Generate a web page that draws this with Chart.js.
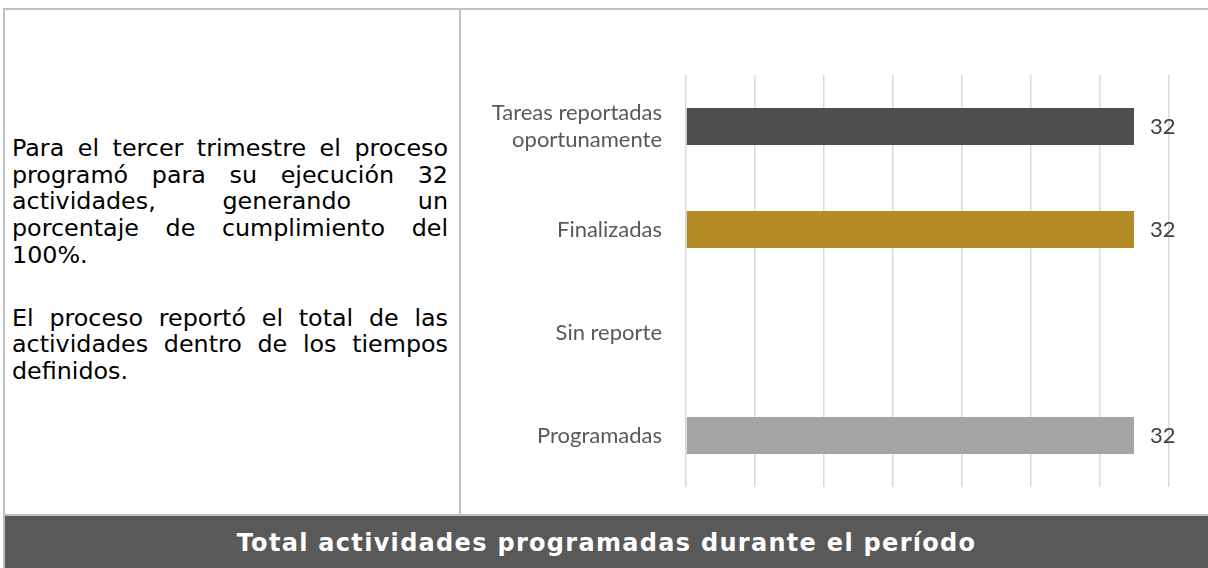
<!DOCTYPE html>
<html>
<head>
<meta charset="utf-8">
<script src="https://cdn.jsdelivr.net/npm/chart.js@4/dist/chart.umd.min.js"></script>
<style>
  html, body { margin: 0; padding: 0; background: #fff; }
  body { width: 1208px; height: 568px; position: relative; overflow: hidden; }
  .frame { position: absolute; left: 3px; top: 8px; width: 1220px; height: 600px;
           border-left: 2px solid #bfbfbf; border-top: 2px solid #bfbfbf; box-sizing: border-box; }
  .divider { position: absolute; left: 459px; top: 8px; width: 2px; height: 508px; background: #bfbfbf; }
  .summary { position: absolute; left: 12px; top: 135px; width: 436px;
             font-family: "DejaVu Sans", Verdana, sans-serif; font-size: 23.8px; line-height: 26.7px;
             color: #000; text-align: justify; }
  .summary p { margin: 0 0 36px 0; }
  .footer { position: absolute; left: 5px; top: 514px; width: 1210px; height: 60px;
            border-top: 2px solid #bfbfbf; background: #595959; }
  .footer span { position: absolute; left: 0; width: 1203px; top: 13px; text-align: center;
                 font-family: "DejaVu Sans", Verdana, sans-serif; font-weight: bold; font-size: 24px;
                 letter-spacing: 1.3px; color: #fff; }
  #activityChart { position: absolute; left: 462px; top: 10px; }
</style>
</head>
<body>
<div class="frame"></div>
<div class="divider"></div>
<div class="summary">
  <p>Para el tercer trimestre el proceso programó para su ejecución 32 actividades, generando un porcentaje de cumplimiento del 100%.</p>
  <p>El proceso reportó el total de las actividades dentro de los tiempos definidos.</p>
</div>
<canvas id="activityChart" width="744" height="504"></canvas>
<div class="footer"><span>Total actividades programadas durante el período</span></div>

<script>
const categories = [['Tareas reportadas', 'oportunamente'], 'Finalizadas', 'Sin reporte', 'Programadas'];
const activityValues = [32, 32, null, 32];
const barColors = ['#504f4d', '#b38b27', '#a5a5a5', '#a5a5a5'];
const axisMax = 34.5;
const gridLineCount = 8;

// value labels at the end of each bar
const barValueLabels = {
    id: 'barValueLabels',
    afterDatasetsDraw(chart) {
        const ctx = chart.ctx;
        const meta = chart.getDatasetMeta(0);
        ctx.save();
        ctx.font = '22px Lato, "Open Sans", sans-serif';
        ctx.fillStyle = '#404040';
        ctx.textBaseline = 'middle';
        ctx.textAlign = 'left';
        meta.data.forEach((bar, i) => {
            const v = activityValues[i];
            if (v === null) return;
            ctx.fillText(String(v), bar.x + 16, bar.y);
        });
        ctx.restore();
    }
};

const ctx = document.getElementById('activityChart');
new Chart(ctx, {
    type: 'bar',
    data: {
        labels: categories,
        datasets: [{
            data: activityValues,
            backgroundColor: barColors,
            barPercentage: 0.36,
            categoryPercentage: 1.0
        }]
    },
    options: {
        indexAxis: 'y',
        responsive: false,
        animation: false,
        layout: { padding: { left: 0, right: 37, top: 65, bottom: 27 } },
        plugins: { legend: { display: false }, tooltip: { enabled: false } },
        scales: {
            x: {
                min: 0,
                max: axisMax,
                ticks: { display: false, count: gridLineCount },
                grid: { color: '#d9d9d9', lineWidth: 1.5, drawTicks: false },
                border: { display: false }
            },
            y: {
                grid: { display: false, drawTicks: false },
                border: { display: false },
                ticks: {
                    color: '#595959',
                    padding: 24,
                    font: { family: 'Lato, "Open Sans", sans-serif', size: 22, lineHeight: 1.25 }
                },
                afterFit(axis) {
                    axis.width = 224;
                    // labels sit inside the layout padding, don't let them shrink the plot
                    axis.paddingTop = 0;
                    axis.paddingBottom = 0;
                }
            }
        }
    },
    plugins: [barValueLabels]
});
</script>
</body>
</html>
